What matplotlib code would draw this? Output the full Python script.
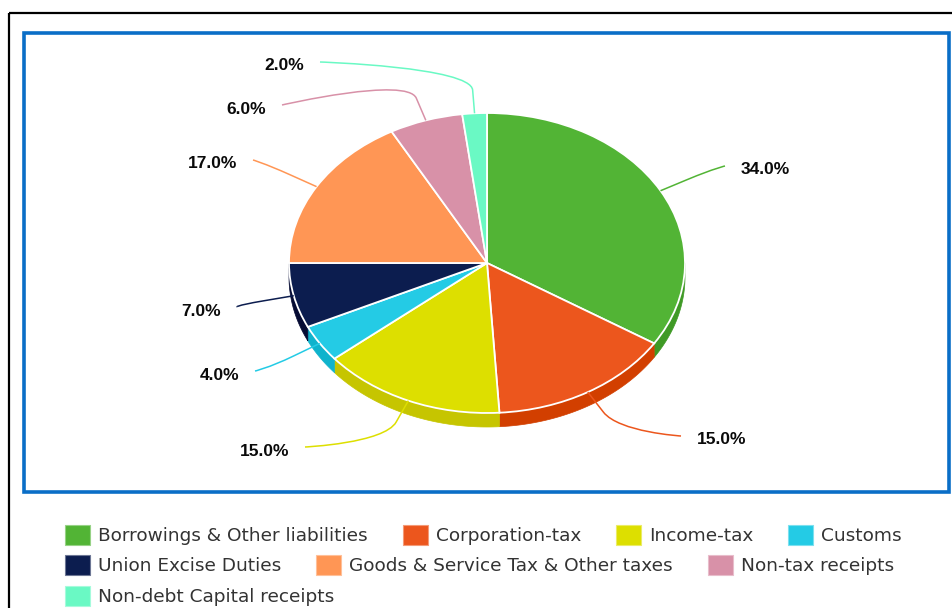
import numpy as np
import matplotlib.pyplot as plt
from matplotlib.patches import Rectangle, Polygon, PathPatch
from matplotlib.path import Path
from matplotlib.colors import to_rgb

# receipts breakdown (share of every rupee)
names = ["Borrowings & Other liabilities", "Corporation-tax", "Income-tax", "Customs",
         "Union Excise Duties", "Goods & Service Tax & Other taxes", "Non-tax receipts",
         "Non-debt Capital receipts"]
shares = [34, 15, 15, 4, 7, 17, 6, 2]
pct_labels = ["34.0%", "15.0%", "15.0%", "4.0%", "7.0%", "17.0%", "6.0%", "2.0%"]

colors = ["#52b435", "#ec561d", "#dddf00", "#24cbe5", "#0c1d4f", "#ff9655", "#d891a8", "#6af9c4"]
side_colors = ["#3f9a26", "#d23f00", "#c6c500", "#0fb3cc", "#050b33", "#e07a3c", "#b87088", "#4ed8a6"]

# figure geometry in pixels
W, H = 952, 608
cx, cy = 487, 263          # pie centre
rx, ry = 198, 150          # pie radii
depth = 14                 # thickness of the pie rim

# where each connector line ends (pixels)
label_ends = [(725, 166), (681, 436), (305, 447), (255, 371),
              (237, 307), (253, 160), (282, 105), (320, 62)]
legend_rows = [[0, 1, 2, 3], [4, 5, 6], [7]]
legend_y = [535, 565, 596]


def to_data(px, py):
    return (px - cx) / rx, (cy - py) / ry


fig = plt.figure(figsize=(W / 100, H / 100), dpi=100)

# background layer in pixel units: frames and legend
bg = fig.add_axes([0, 0, 1, 1])
bg.set_xlim(0, W)
bg.set_ylim(H, 0)
bg.axis("off")
bg.add_patch(Rectangle((9, 12.5), 980, 640, fill=False, ec="black", lw=1.6))
bg.add_patch(Rectangle((24, 33), 925, 459, fill=False, ec="#0a6ec7", lw=2.6))

# pie layer
ax = fig.add_axes([0, 0, 1, 1])
wedges, _ = ax.pie(shares, colors=colors, startangle=90, counterclock=False,
                   wedgeprops=dict(edgecolor="white", linewidth=1.3))
ax.set_aspect("auto")
ax.set_xlim(-cx / rx, (W - cx) / rx)
ax.set_ylim(-(H - cy) / ry, cy / ry)
ax.axis("off")

d = depth / ry
for w, sc in zip(wedges, side_colors):
    w.set_zorder(3)
    for lo, hi in [(-180, 0), (180, 360)]:
        a, b = max(w.theta1, lo), min(w.theta2, hi)
        if b - a <= 0.01:
            continue
        t = np.radians(np.linspace(a, b, 60))
        top = np.column_stack([np.cos(t), np.sin(t)])
        bot = top - [0, d]
        ax.add_patch(Polygon(np.vstack([top, bot[::-1]]), closed=True,
                             fc=sc, ec=sc, lw=0.5, zorder=2))

# data labels with soft connectors
k = 0.155
for w, col, txt, end in zip(wedges, colors, pct_labels, label_ends):
    m = np.radians((w.theta1 + w.theta2) / 2)
    E = np.array([np.cos(m), np.sin(m)])
    B = E * (1 + k)
    L = np.array(to_data(*end))
    verts = [L, L, 2 * B - E, B, E]
    codes = [Path.MOVETO, Path.CURVE4, Path.CURVE4, Path.CURVE4, Path.LINETO]
    ax.add_patch(PathPatch(Path(verts, codes), fill=False, ec=col, lw=1.1, zorder=4))
    left = end[0] < cx
    tx = end[0] - 16 if left else end[0] + 16
    ax.text(*to_data(tx, end[1] + 4), txt, ha="right" if left else "left", va="center",
            fontsize=12.5, fontweight="bold", family="Liberation Sans", color="#0a0a0a",
            zorder=5)

# legend, laid out row by row
renderer = fig.canvas.get_renderer()
for row, y in zip(legend_rows, legend_y):
    x = 65
    for i in row:
        edge = tuple(0.6 * np.array(to_rgb(colors[i])) + 0.4)
        bg.add_patch(Rectangle((x, y - 10), 25, 20, fc=colors[i], ec=edge, lw=0.8))
        t = bg.text(x + 33, y + 1, names[i], ha="left", va="center", fontsize=13.3,
                    family="DejaVu Sans", color="#333333")
        x += 33 + t.get_window_extent(renderer).width + 35

fig.savefig("out.png", dpi=100)
